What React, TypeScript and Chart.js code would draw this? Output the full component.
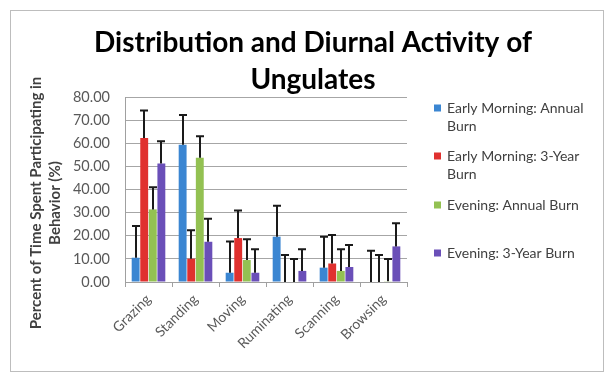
import React, { useEffect, useRef } from "react";
import { Chart, registerables } from "chart.js";

Chart.register(...registerables);

const categories = ["Grazing", "Standing", "Moving", "Ruminating", "Scanning", "Browsing"];
const seriesNames = [
  "Early Morning: Annual Burn",
  "Early Morning: 3-Year Burn",
  "Evening: Annual Burn",
  "Evening: 3-Year Burn",
];
const earlyAnnual = [10.5, 59.4, 4, 19.6, 6.2, 0];
const earlyThreeYear = [62.3, 10.1, 19, 0, 8, 0];
const eveningAnnual = [31.4, 53.7, 9.5, 0, 4.8, 0.3];
const eveningThreeYear = [51.2, 17.4, 4, 4.8, 6.5, 15.4];
const earlyAnnualErr = [13.7, 12.8, 13.5, 13.4, 13.4, 13.5];
const earlyThreeYearErr = [11.9, 12.3, 11.9, 11.7, 12.3, 11.7];
const eveningAnnualErr = [9.6, 9.3, 9, 10, 9.4, 9.7];
const eveningThreeYearErr = [9.7, 9.9, 10.2, 9.4, 9.5, 10];
const yTicks = [0, 10, 20, 30, 40, 50, 60, 70, 80];
const titleLines = ["Distribution and Diurnal Activity of", "Ungulates"];
const yTitleLines = ["Percent of Time Spent Participating in", "Behavior (%)"];

const colors = ["#3b86d2", "#e0312f", "#93c152", "#6a4fb8"];
const FONT = "Lato, 'Open Sans', sans-serif";

const errorBarPlugin = {
  id: "errorBars",
  afterDatasetsDraw(chart: any) {
    const ctx = chart.ctx;
    const yScale = chart.scales.y;
    ctx.save();
    ctx.strokeStyle = "#1a1a1a";
    ctx.lineWidth = 2;
    chart.data.datasets.forEach((ds: any, i: number) => {
      const meta = chart.getDatasetMeta(i);
      meta.data.forEach((el: any, j: number) => {
        const v = ds.data[j];
        const e = ds.errors[j];
        const yTop = yScale.getPixelForValue(v + e);
        const x = Math.round(el.x);
        ctx.beginPath();
        ctx.moveTo(x, el.y);
        ctx.lineTo(x, yTop);
        ctx.moveTo(x - 4, yTop);
        ctx.lineTo(x + 4, yTop);
        ctx.stroke();
      });
    });
    ctx.restore();
  },
};

const decorPlugin = {
  id: "decor",
  beforeDraw(chart: any) {
    const ctx = chart.ctx;
    ctx.save();
    ctx.fillStyle = "#ffffff";
    ctx.fillRect(0, 0, chart.width, chart.height);
    ctx.strokeStyle = "#bdbdbd";
    ctx.lineWidth = 1;
    ctx.strokeRect(10.5, 10.5, 593, 361);
    ctx.restore();
  },
  afterDraw(chart: any) {
    const ctx = chart.ctx;
    ctx.save();
    // Title
    ctx.fillStyle = "#000000";
    ctx.font = "bold 28px " + FONT;
    ctx.textAlign = "center";
    ctx.textBaseline = "alphabetic";
    ctx.fillText(titleLines[0], 313, 52);
    ctx.fillText(titleLines[1], 313, 89);

    // Y axis title
    ctx.save();
    ctx.font = "bold 15px " + FONT;
    ctx.fillStyle = "#404040";
    ctx.textBaseline = "middle";
    ctx.textAlign = "center";
    ctx.translate(36, 203);
    ctx.rotate(-Math.PI / 2);
    ctx.fillText(yTitleLines[0], 0, 0);
    ctx.fillText(yTitleLines[1], 0, 19);
    ctx.restore();

    // Legend
    ctx.font = "14px " + FONT;
    ctx.textAlign = "left";
    ctx.textBaseline = "middle";
    const itemY = [108, 156, 205, 253];
    seriesNames.forEach((name, i) => {
      const words = name.split(" ");
      const lines: string[] = [];
      let cur = "";
      words.forEach((w) => {
        const test = cur ? cur + " " + w : w;
        if (ctx.measureText(test).width > 156 && cur) {
          lines.push(cur);
          cur = w;
        } else cur = test;
      });
      if (cur) lines.push(cur);
      const y = itemY[i];
      ctx.fillStyle = colors[i];
      ctx.fillRect(434, y - 3.5, 7, 7);
      ctx.fillStyle = "#404040";
      lines.forEach((ln, k) => ctx.fillText(ln, 447, y + k * 18.5));
    });
    ctx.restore();
  },
};

export default function App() {
  const ref = useRef<HTMLCanvasElement | null>(null);
  useEffect(() => {
    if (!ref.current) return;
    const values = [earlyAnnual, earlyThreeYear, eveningAnnual, eveningThreeYear];
    const errs = [earlyAnnualErr, earlyThreeYearErr, eveningAnnualErr, eveningThreeYearErr];
    const chart = new Chart(ref.current, {
      type: "bar",
      data: {
        labels: categories,
        datasets: seriesNames.map((n, i) => ({
          label: n,
          data: values[i],
          errors: errs[i],
          backgroundColor: colors[i],
          borderWidth: 0,
          barPercentage: 0.92,
          categoryPercentage: 0.73,
        })) as any,
      },
      options: {
        animation: false,
        responsive: false,
        devicePixelRatio: 1,
        layout: { padding: { top: 97, right: 198, left: 0, bottom: 0 } },
        plugins: { legend: { display: false }, title: { display: false }, tooltip: { enabled: false } },
        scales: {
          x: {
            grid: { display: true, drawOnChartArea: false, drawTicks: true, tickLength: 5, color: "#a0a0a0", offset: true },
            border: { color: "#a0a0a0", width: 1 },
            ticks: {
              font: { family: FONT, size: 14 },
              color: "#595959",
              minRotation: 45,
              maxRotation: 45,
              padding: 4,
            },
            afterFit: (s: any) => { s.height = 93; },
          },
          y: {
            min: 0,
            max: 80,
            afterBuildTicks: (s: any) => { s.ticks = yTicks.map((v) => ({ value: v })); },
            grid: { color: "#a6a6a6", drawTicks: false },
            border: { color: "#a0a0a0", width: 1 },
            ticks: {
              font: { family: FONT, size: 14.5 },
              color: "#595959",
              padding: 15,
              callback: (v: any) => Number(v).toFixed(2),
            },
            afterFit: (s: any) => { s.width = 125; },
          },
        },
      },
      plugins: [decorPlugin, errorBarPlugin],
    });
    return () => chart.destroy();
  }, []);
  return (
    <div style={{ position: "absolute", left: 0, top: 0, width: 605, height: 375 }}>
      <canvas ref={ref} width={605} height={375} />
    </div>
  );
}
